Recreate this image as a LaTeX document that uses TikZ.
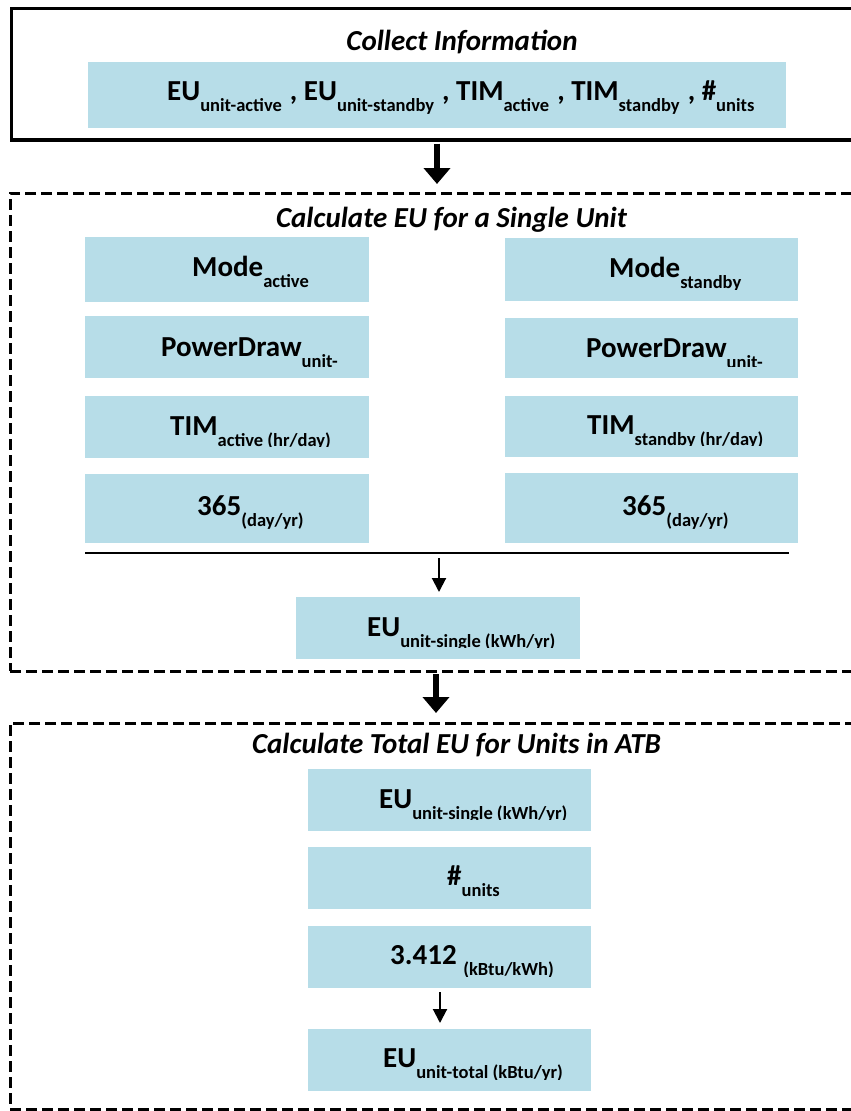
\documentclass[tikz,border=0pt]{standalone}
\usepackage{fontspec}
\setmainfont{Carlito}
\usetikzlibrary{arrows.meta}
\definecolor{boxblue}{HTML}{B7DDE8}
\newcommand\sbs[1]{\raisebox{-11.5pt}{\fontsize{18.5}{20}\selectfont #1}}
\newcommand\sep{\hspace{1.5pt} , }
\newcommand\cliptext[4]{%
  \begin{scope}
    \clip (#1.north west) rectangle ([yshift=11.5pt]#1.south east);
    \node[txt] (#1t) at (#2,#3) {#4};
  \end{scope}}
\begin{document}
\begin{tikzpicture}[x=1pt,y=-1pt,
  bx/.style={fill=boxblue, inner sep=0pt, outer sep=0pt, draw=none},
  txt/.style={anchor=base west, inner sep=0pt, font=\fontsize{29}{32}\selectfont\bfseries},
  ttl/.style={anchor=base, inner sep=0pt, font=\fontsize{29}{32}\selectfont\bfseries\itshape},
  solidframe/.style={draw, line width=3.4pt, inner sep=0pt, outer sep=0pt},
  dashframe/.style={draw, line width=3pt, dash pattern=on 11pt off 5pt, inner sep=0pt, outer sep=0pt},
  bigarrow/.style={line width=6.5pt, -{Triangle[width=26pt,length=16pt]}},
  smallarrow/.style={line width=2pt, -{Triangle[width=14pt,length=14pt]}}]
\useasboundingbox (0,0) rectangle (851,1111);
\fill[white] (0,0) rectangle (851,1111);

% frames
\node[solidframe, minimum width=868.5pt, minimum height=131.5pt] (c1) at (445.75,74.25) {};
\node[dashframe, minimum width=870pt, minimum height=478pt] (c2) at (445,432) {};
\node[dashframe, minimum width=870pt, minimum height=386pt] (c3) at (445,916) {};

% titles
\node[ttl] (h1) at (462,50) {Collect Information};
\node[ttl] (h2) at (451.5,227) {Calculate EU for a Single Unit};
\node[ttl] (h3) at (456.5,753) {Calculate Total EU for Units in ATB};

% boxes
\node[bx, minimum width=698pt, minimum height=66pt] (top) at (437,95) {};
\node[bx, minimum width=284pt, minimum height=65pt] (ma) at (227,269.5) {};
\node[bx, minimum width=284pt, minimum height=62pt] (pa) at (227,347) {};
\node[bx, minimum width=284pt, minimum height=62pt] (ta) at (227,427) {};
\node[bx, minimum width=284pt, minimum height=69pt] (da) at (227,508.5) {};
\node[bx, minimum width=293pt, minimum height=63pt] (ms) at (651.5,269.5) {};
\node[bx, minimum width=293pt, minimum height=60pt] (ps) at (651.5,348) {};
\node[bx, minimum width=293pt, minimum height=61pt] (ts) at (651.5,426.5) {};
\node[bx, minimum width=293pt, minimum height=70pt] (ds) at (651.5,508) {};
\node[bx, minimum width=284pt, minimum height=62pt] (es) at (438,628) {};
\node[bx, minimum width=283pt, minimum height=62pt] (b1) at (449.5,800) {};
\node[bx, minimum width=283pt, minimum height=62pt] (b2) at (449.5,878) {};
\node[bx, minimum width=283pt, minimum height=62pt] (b3) at (449.5,957) {};
\node[bx, minimum width=283pt, minimum height=62pt] (b4) at (449.5,1060) {};

% texts
\node[txt] (topt) at (167,100) {EU\sbs{unit-active}\sep EU\sbs{unit-standby}\sep TIM\sbs{active}\sep TIM\sbs{standby}\sep \#\sbs{units}};
\cliptext{ma}{192}{276}{Mode\sbs{active}}
\cliptext{pa}{161}{356}{PowerDraw\sbs{unit-}}
\cliptext{ta}{170}{435}{TIM\sbs{active (hr/day)}}
\cliptext{da}{197}{515}{365\sbs{(day/yr)}}
\cliptext{ms}{609}{277}{Mode\sbs{standby}}
\cliptext{ps}{586}{357}{PowerDraw\sbs{unit-}}
\cliptext{ts}{587}{434}{TIM\sbs{standby (hr/day)}}
\cliptext{ds}{622}{515}{365\sbs{(day/yr)}}
\cliptext{es}{367}{636}{EU\sbs{unit-single (kWh/yr)}}
\cliptext{b1}{379}{808}{EU\sbs{unit-single (kWh/yr)}}
\cliptext{b2}{447}{885}{\#\sbs{units}}
\cliptext{b3}{390}{964}{3.412 \sbs{(kBtu/kWh)}}
\cliptext{b4}{383}{1067}{EU\sbs{unit-total (kBtu/yr)}}

% divider line
\coordinate (hl) at (85,553);
\coordinate (hr) at (789,553);
\draw[line width=2.5pt] (hl) -- (hr);

% connectors
\draw[bigarrow, shorten <=3.5pt, shorten >=9pt] (top.south |- c1.south) -- (top.south |- c2.north);
\draw[bigarrow, shorten <=3pt, shorten >=10pt] ([xshift=-2pt]es.south |- c2.south) -- ([xshift=-2pt]es.south |- c3.north);
\draw[smallarrow, shorten <=5pt, shorten >=5pt] ([xshift=1pt]es.north |- hl) -- ([xshift=1pt]es.north);
\draw[smallarrow, shorten <=4pt, shorten >=6pt] ([xshift=-9.5pt]b3.south) -- ([xshift=-9.5pt]b4.north);
\end{tikzpicture}
\end{document}
